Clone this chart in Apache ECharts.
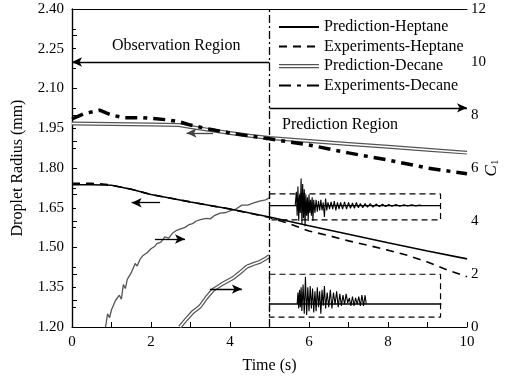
<!DOCTYPE html>
<html>
<head>
<meta charset="utf-8">
<script src="https://cdn.jsdelivr.net/npm/echarts@6/dist/echarts.min.js"></script>
<style>
html,body{margin:0;padding:0;background:#fff;}
#main{width:509px;height:382px;}
</style>
</head>
<body>
<div id="main"></div>
<script>
// droplet radius (mm) vs time (s)
var predHeptane = [[0,1.737],[0.5,1.737],[1,1.735],[1.5,1.72],[2,1.70],[3,1.672],[4,1.645],[5,1.615],[6,1.582],[7,1.55],[8,1.518],[9,1.487],[10,1.457]];
var expHeptane = [[0,1.742],[0.5,1.742],[0.9,1.738],[1.5,1.72],[2,1.70],[3,1.672],[4,1.645],[5,1.613],[5.5,1.59],[6,1.562],[6.5,1.545],[7,1.525],[7.5,1.508],[8,1.49],[8.5,1.47],[9,1.445],[9.5,1.415],[10,1.39]];
var predDecane = [[0,1.968],[1,1.966],[2,1.964],[2.7,1.962],[3,1.955],[3.5,1.943],[4,1.932],[4.5,1.922],[5,1.913],[6,1.902],[7,1.891],[8,1.88],[9,1.869],[10,1.858]];
var expDecane = [[0,1.985],[0.3,2.005],[0.7,2.018],[1.0,2.0],[1.3,1.99],[1.8,1.99],[2.4,1.982],[2.7,1.975],[3,1.962],[3.5,1.946],[4,1.932],[4.5,1.921],[5,1.91],[6,1.887],[7,1.857],[8,1.83],[9,1.80],[10,1.778]];

// C1 (right axis)
var c1Heptane = [[0.85,0],[0.9,0.5],[0.95,0.35],[1.0,0.65],[1.1,1.0],[1.2,1.2],[1.25,1.05],[1.3,1.6],[1.35,1.45],[1.4,1.8],[1.5,2.05],[1.6,2.4],[1.65,2.3],[1.72,2.55],[1.8,2.7],[1.9,2.8],[2.0,2.95],[2.1,3.05],[2.15,3.15],[2.25,3.2],[2.35,3.4],[2.45,3.35],[2.55,3.55],[2.65,3.65],[2.75,3.7],[2.85,3.75],[2.95,3.85],[3.05,3.9],[3.15,4.0],[3.25,4.05],[3.4,4.1],[3.5,4.08],[3.6,4.2],[3.75,4.3],[3.9,4.32],[4.0,4.38],[4.15,4.45],[4.3,4.6],[4.45,4.6],[4.6,4.68],[4.75,4.75],[4.9,4.8],[5.0,4.87]];
var c1Decane = [[2.73,0],[2.9,0.3],[3.05,0.55],[3.24,0.77],[3.4,1.1],[3.57,1.4],[3.8,1.62],[4.08,1.85],[4.25,2.05],[4.43,2.28],[4.6,2.38],[4.76,2.46],[4.9,2.58],[5.0,2.68]];

// inset signals (plotted on C1 axis)
var sigHeptane = [[5.65,4.58],[5.68,5.1],[5.70,4.2],[5.72,5.3],[5.74,4.0],[5.76,5.0],[5.78,4.3],[5.80,5.6],[5.82,3.9],[5.84,5.4],[5.86,4.1],[5.88,5.2],[5.90,3.8],[5.92,5.0],[5.94,4.2],[5.96,4.9],[5.98,4.0],[6.00,5.0],[6.02,4.3],[6.04,4.8],[6.06,4.2],[6.08,4.9],[6.10,4.0],[6.12,4.8],[6.15,4.3],[6.18,4.8],[6.21,4.35],[6.24,4.75],[6.27,4.4],[6.30,4.8],[6.33,4.4],[6.36,4.7],[6.39,4.15],[6.42,4.85],[6.45,4.4],[6.48,4.7],[6.52,4.45],[6.56,4.72],[6.60,4.45],[6.64,4.75],[6.68,4.4],[6.72,4.7],[6.76,4.45],[6.80,4.7],[6.85,4.45],[6.90,4.72],[6.95,4.45],[7.00,4.7],[7.05,4.48],[7.10,4.68],[7.15,4.48],[7.20,4.7],[7.25,4.5],[7.30,4.66],[7.36,4.5],[7.42,4.66],[7.48,4.52],[7.55,4.66],[7.62,4.52],[7.70,4.64],[7.78,4.54],[7.86,4.63],[7.94,4.55],[8.02,4.62],[8.10,4.56],[8.20,4.62],[8.30,4.56],[8.40,4.61],[8.50,4.57],[8.60,4.61],[8.70,4.57],[8.80,4.6],[8.85,4.58]];
var sigDecane = [[5.70,0.87],[5.72,1.3],[5.74,0.7],[5.76,1.4],[5.78,0.75],[5.80,1.5],[5.82,0.6],[5.85,1.6],[5.88,0.5],[5.91,1.9],[5.94,0.45],[5.97,1.5],[6.00,0.6],[6.03,1.55],[6.06,0.7],[6.09,1.45],[6.12,0.55],[6.15,1.35],[6.18,0.6],[6.21,1.5],[6.24,0.75],[6.27,1.35],[6.30,0.5],[6.33,1.4],[6.36,0.8],[6.39,1.55],[6.42,0.7],[6.46,1.3],[6.50,0.75],[6.54,1.4],[6.58,0.7],[6.62,1.3],[6.66,0.85],[6.70,1.35],[6.74,0.75],[6.78,1.25],[6.82,0.8],[6.86,1.2],[6.90,0.85],[6.94,1.25],[6.98,0.9],[7.02,1.1],[7.06,0.8],[7.10,1.15],[7.14,0.8],[7.18,1.1],[7.22,0.85],[7.26,1.15],[7.30,0.8],[7.34,1.2],[7.38,0.8],[7.42,1.2],[7.45,0.87]];
var baseHeptane = [[5,4.58],[9.33,4.58]];
var baseDecane = [[5,0.87],[9.35,0.87]];
var boxHeptane = [[5,5.02],[9.33,5.02],[9.33,4.04],[5,4.04],[5,5.02]];
var boxDecane = [[5,1.99],[9.33,1.99],[9.33,0.37],[5,0.37],[5,1.99]];

// annotation arrows [from, to, colour]
var arrows = [
    [[5,2.2],[0,2.2],'#000'],
    [[5,2.027],[10,2.027],'#000'],
    [[3.57,1.932],[2.9,1.932],'#444'],
    [[2.23,1.669],[1.51,1.669],'#000'],
    [[2.1,1.532],[2.86,1.532],'#000'],
    [[3.49,1.343],[4.3,1.343],'#000']
];
var regionSplit = 5;

var font = 'Liberation Serif';

function lineSeries(name, data, yIdx, color, width, type, z){
    return {
        name: name,
        type: 'line',
        yAxisIndex: yIdx,
        data: data,
        symbol: 'none',
        silent: true,
        z: z || 2,
        lineStyle: {color: color, width: width, type: type || 'solid'},
        itemStyle: {color: color}
    };
}

var arrowLines = arrows.map(function (a) {
    return [
        {coord: a[0], symbol: 'none', lineStyle: {color: a[2]}},
        {coord: a[1], symbol: 'arrow'}
    ];
});

var option = {
    animation: false,
    backgroundColor: '#fff',
    grid: {left: 72, right: 42, top: 9, bottom: 55, outerBoundsMode: 'none', containLabel: false},
    legend: {
        orient: 'vertical',
        left: 272,
        top: 16,
        itemWidth: 40,
        itemHeight: 12,
        itemGap: 3.5,
        padding: [3, 2, 4, 6],
        backgroundColor: '#fff',
        selectedMode: false,
        itemStyle: {opacity: 0},
        textStyle: {fontFamily: font, fontSize: 16, color: '#000'},
        data: [
            {name: 'Prediction-Heptane'},
            {name: 'Experiments-Heptane'},
            {name: 'Prediction-Decane', icon: 'path://M0,0H40 M0,4H40V5.3H0Z M0,7H40V8.3H0Z M0,12H40', itemStyle: {color: '#555', borderWidth: 0, opacity: 1}},
            {name: 'Experiments-Decane'}
        ]
    },
    xAxis: [{
        type: 'value',
        min: 0, max: 10, interval: 2,
        name: 'Time (s)',
        nameLocation: 'middle',
        nameGap: 31,
        nameTextStyle: {fontFamily: font, fontSize: 16, color: '#000'},
        axisLine: {lineStyle: {color: '#000', width: 1.2}},
        axisTick: {inside: true, length: 5, lineStyle: {color: '#000'}},
        minorTick: {show: true, splitNumber: 2, length: 5, lineStyle: {color: '#000'}},
        axisLabel: {fontFamily: font, fontSize: 15, color: '#000', margin: 8},
        splitLine: {show: false}
    }, {
        type: 'value',
        position: 'top',
        min: 0, max: 10, interval: 2,
        axisLine: {show: true, lineStyle: {color: '#000', width: 1.2}},
        axisTick: {show: false},
        axisLabel: {show: false},
        splitLine: {show: false}
    }],
    yAxis: [{
        type: 'value',
        min: 1.2, max: 2.4, interval: 0.15,
        name: 'Droplet Radius (mm)',
        nameLocation: 'middle',
        nameGap: 46,
        nameTextStyle: {fontFamily: font, fontSize: 16, color: '#000'},
        axisLine: {show: true, lineStyle: {color: '#000', width: 1.2}},
        axisTick: {inside: true, length: 4, lineStyle: {color: '#000'}},
        minorTick: {show: true, splitNumber: 2, length: 4, lineStyle: {color: '#000'}},
        axisLabel: {fontFamily: font, fontSize: 15, color: '#000', margin: 8,
            formatter: function (v) { return v.toFixed(2); }},
        splitLine: {show: false}
    }, {
        type: 'value',
        position: 'right',
        min: 0, max: 12, interval: 2,
        name: '{i|C}{s|1}',
        nameLocation: 'middle',
        nameGap: 15,
        nameMoveOverlap: false,
        nameRotate: 90,
        nameTextStyle: {
            rich: {
                i: {fontFamily: font, fontSize: 17, fontStyle: 'italic', color: '#000'},
                s: {fontFamily: font, fontSize: 11, color: '#000', verticalAlign: 'bottom', padding: [8, 0, 0, 0]}
            }
        },
        axisLine: {show: true, lineStyle: {color: '#000', width: 1.2}},
        axisTick: {inside: false, length: 5, lineStyle: {color: '#000'}},
        minorTick: {show: true, splitNumber: 2, length: 5, lineStyle: {color: '#000'}},
        axisLabel: {fontFamily: font, fontSize: 15, color: '#000', margin: 4},
        splitLine: {show: false}
    }],
    graphic: [
        {type: 'text', left: 112, top: 38, style: {text: 'Observation Region', font: '16px "Liberation Serif"', fill: '#000'}},
        {type: 'text', left: 282, top: 117, style: {text: 'Prediction Region', font: '16px "Liberation Serif"', fill: '#000'}}
    ],
    series: [
        // C1 curves and insets
        lineSeries('c1HeptaneCurve', c1Heptane, 1, '#555', 1.3),
        lineSeries('c1DecaneOuter', c1Decane, 1, '#555', 4),
        lineSeries('c1DecaneInner', c1Decane, 1, '#fff', 1.6, 'solid', 3),
        lineSeries('boxHeptane', boxHeptane, 1, '#000', 1.2, [6, 4]),
        lineSeries('boxDecane', boxDecane, 1, '#000', 1.2, [6, 4]),
        lineSeries('baseHeptane', baseHeptane, 1, '#000', 1.4),
        lineSeries('baseDecane', baseDecane, 1, '#000', 1.4),
        lineSeries('sigHeptane', sigHeptane, 1, '#000', 1.1),
        lineSeries('sigDecane', sigDecane, 1, '#000', 1.1),
        // radius curves
        lineSeries('Prediction-Decane', predDecane, 0, '#555', 4, 'solid', 4),
        lineSeries('predDecaneInner', predDecane, 0, '#fff', 1.5, 'solid', 5),
        lineSeries('Experiments-Decane', expDecane, 0, '#000', 3.5, [12, 6, 4, 6], 6),
        lineSeries('Prediction-Heptane', predHeptane, 0, '#000', 1.6, 'solid', 6),
        lineSeries('Experiments-Heptane', expHeptane, 0, '#000', 1.6, [8, 6], 6),
        {
            name: 'annotations',
            type: 'line',
            data: [],
            silent: true,
            z: 7,
            markLine: {
                silent: true,
                animation: false,
                symbolSize: [7, 10],
                label: {show: false},
                lineStyle: {color: '#000', width: 1.3, type: 'solid'},
                data: arrowLines.concat([
                    [
                        {coord: [regionSplit, 1.2], symbol: 'none', lineStyle: {type: [8, 3, 2, 3], width: 1.3, color: '#000'}},
                        {coord: [regionSplit, 2.4], symbol: 'none'}
                    ]
                ])
            }
        }
    ]
};

var myChart = echarts.init(document.getElementById('main'));
myChart.setOption(option);
</script>
</body>
</html>
